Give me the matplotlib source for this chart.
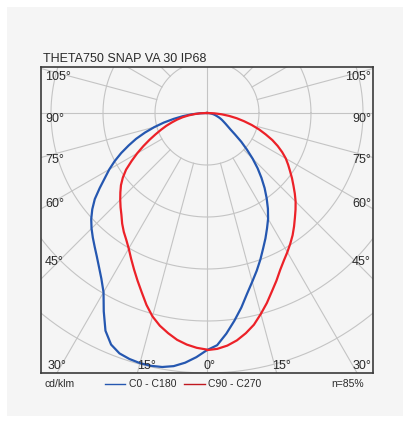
import numpy as np
import matplotlib
matplotlib.use("Agg")
import matplotlib.pyplot as plt
from matplotlib.lines import Line2D
from matplotlib.patches import Rectangle

plt.rcParams['font.family'] = ['Liberation Sans', 'DejaVu Sans']

titulo = "THETA750 SNAP VA 30 IP68"
angulos = np.arange(0, 92.5, 2.5)  # gamma, grados

# intensidades relativas (unidades de anillo)
c0 = [4.56, 4.47, 4.26, 4.03, 3.80, 3.56, 3.36, 3.18, 3.00, 2.82,
      2.66, 2.50, 2.35, 2.18, 2.00, 1.82, 1.63, 1.44, 1.24, 1.04,
      0.86, 0.68, 0.55, 0.47, 0.41, 0.36, 0.32, 0.28, 0.24, 0.20,
      0.17, 0.14, 0.11, 0.08, 0.05, 0.03, 0.0]
c180 = [4.56, 4.70, 4.82, 4.91, 4.96, 4.98, 4.98, 4.96, 4.92, 4.82,
        4.62, 4.30, 3.98, 3.78, 3.62, 3.48, 3.36, 3.25, 3.14, 3.02,
        2.88, 2.72, 2.52, 2.33, 2.17, 2.00, 1.82, 1.63, 1.45, 1.25,
        1.05, 0.85, 0.65, 0.47, 0.30, 0.14, 0.0]
c90 = [4.56, 4.54, 4.49, 4.41, 4.30, 4.17, 4.00, 3.83, 3.65, 3.49,
       3.33, 3.20, 3.09, 2.98, 2.87, 2.75, 2.63, 2.52, 2.41, 2.29,
       2.17, 2.06, 1.95, 1.85, 1.75, 1.63, 1.50, 1.36, 1.20, 1.05,
       0.89, 0.73, 0.58, 0.43, 0.28, 0.14, 0.0]
c270 = [4.55, 4.52, 4.47, 4.40, 4.30, 4.19, 4.05, 3.87, 3.67, 3.49,
        3.32, 3.16, 3.01, 2.89, 2.79, 2.68, 2.56, 2.46, 2.36, 2.26,
        2.16, 2.04, 1.90, 1.72, 1.55, 1.38, 1.22, 1.07, 0.94, 0.82,
        0.70, 0.59, 0.48, 0.36, 0.24, 0.12, 0.0]

anillos = [1, 2, 3, 4, 5, 6]
etiquetas_lado = ["105°", "90°", "75°", "60°", "45°"]
y_lado = [0.69, -0.115, -0.90, -1.75, -2.87]
etiquetas_abajo = ["30°", "15°", "0°", "15°", "30°"]
x_abajo = [-3.06, -1.17, 0.04, 1.44, 3.17]

azul = '#2557b0'
rojo = '#ec2128'
gris = '#c4c4c4'
texto = '#2a2a2a'

fig = plt.figure(figsize=(4.10, 4.23), dpi=100)
fig.patch.set_facecolor('white')
fig.patches.append(Rectangle((7/410, 7/423), 396/410, 409/423,
                             transform=fig.transFigure, facecolor='#f5f5f5',
                             edgecolor='none', zorder=-10))

ax = fig.add_axes([41/410, 1-373/423, 332/410, 306/423])
ax.set_facecolor('#f5f5f5')
ax.set_xlim(-166/52, 166/52)
ax.set_ylim(-5.0, 46/52)

# rejilla
t = np.linspace(0, 2*np.pi, 400)
for r in anillos:
    ax.plot(r*np.cos(t), r*np.sin(t), color=gris, lw=0.8, zorder=1)
for a in range(0, 360, 15):
    ar = np.radians(a)
    r0 = 0 if a % 90 == 0 else 1
    ax.plot([r0*np.sin(ar), 10*np.sin(ar)], [-r0*np.cos(ar), -10*np.cos(ar)],
            color=gris, lw=0.8, zorder=1)

def curva(izq, der):
    g = np.radians(angulos)
    xi = -np.sin(g)*np.array(izq)
    yi = -np.cos(g)*np.array(izq)
    xd = np.sin(g)*np.array(der)
    yd = -np.cos(g)*np.array(der)
    return np.concatenate([xi[::-1], xd]), np.concatenate([yi[::-1], yd])

x, y = curva(c180, c0)
ax.plot(x, y, color=azul, lw=1.6, zorder=3, solid_joinstyle='round')
x, y = curva(c270, c90)
ax.plot(x, y, color=rojo, lw=1.6, zorder=3, solid_joinstyle='round')

for s in ax.spines.values():
    s.set_color('#3a3a3a')
    s.set_linewidth(1.2)
ax.set_xticks([])
ax.set_yticks([])

xl, xr = ax.get_xlim()
for lab, yy in zip(etiquetas_lado, y_lado):
    ax.text(xl + 0.08, yy, lab, ha='left', va='center', fontsize=9, color=texto, zorder=5)
    ax.text(xr - 0.04, yy, lab, ha='right', va='center', fontsize=9, color=texto, zorder=5)
has = ['left', 'center', 'center', 'center', 'right']
for lab, xx, h in zip(etiquetas_abajo, x_abajo, has):
    ax.text(xx, -4.98, lab, ha=h, va='bottom', fontsize=9, color=texto, zorder=5)

fig.text(43/410, 1-62/423, titulo, ha='left', va='baseline', fontsize=9, color=texto)

# leyenda
yl = 1-384/423
fig.text(45/410, yl, "cd/klm", ha='left', va='center', fontsize=7.5, color=texto)
fig.lines.append(Line2D([105/410, 125/410], [yl, yl], transform=fig.transFigure, color=azul, lw=1.0))
fig.text(129/410, yl, "C0 - C180", ha='left', va='center', fontsize=7.5, color=texto)
fig.lines.append(Line2D([184/410, 205/410], [yl, yl], transform=fig.transFigure, color='#c0181f', lw=1.0))
fig.text(208/410, yl, "C90 - C270", ha='left', va='center', fontsize=7.5, color=texto)
fig.text(364/410, yl, "n=85%", ha='right', va='center', fontsize=7.5, color=texto)

fig.savefig('out.png', dpi=100, facecolor=fig.get_facecolor())
